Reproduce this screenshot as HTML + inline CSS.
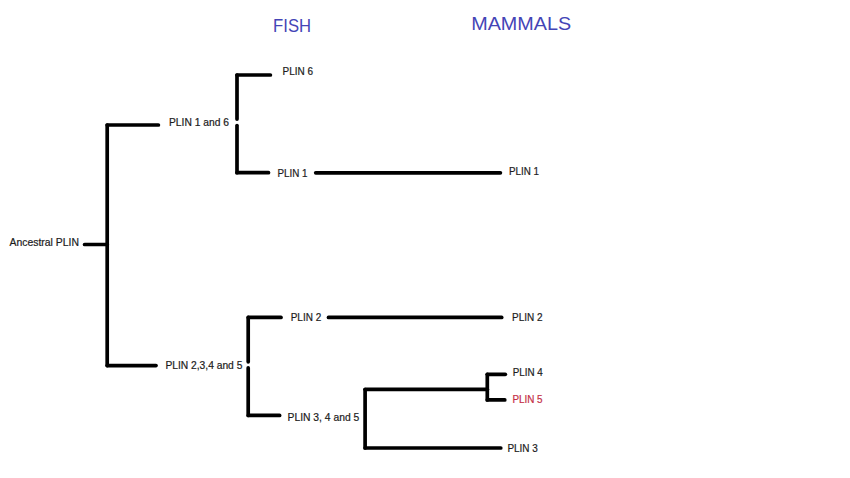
<!DOCTYPE html>
<html><head><meta charset="utf-8">
<style>
html,body{margin:0;padding:0;background:#fff;width:850px;height:478px;overflow:hidden}
svg{display:block}
text{font-family:"Liberation Sans",sans-serif;font-size:10.3px;fill:#1c1c1c;stroke:#1c1c1c;stroke-width:0.2px}
.t{font-size:18.6px;fill:#4444b6;stroke:none}
.r{fill:#c42f46;stroke:#c42f46}
line{stroke:#000;stroke-width:3.7;stroke-linecap:round}
</style></head><body>
<svg width="850" height="478" viewBox="0 0 850 478">
<rect width="850" height="478" fill="#fff"/>
<!-- lines -->
<line x1="84.6" y1="244.5" x2="107.2" y2="244.5"/>
<line x1="107.2" y1="125" x2="107.2" y2="365.6"/>
<line x1="107.2" y1="125" x2="158.4" y2="125"/>
<line x1="107.2" y1="365.6" x2="156" y2="365.6"/>
<line x1="237" y1="75" x2="237" y2="119.1"/>
<line x1="237" y1="125.5" x2="237" y2="172.7"/>
<line x1="237" y1="75" x2="270.4" y2="75"/>
<line x1="237" y1="172.7" x2="268.5" y2="172.7"/>
<line x1="315.7" y1="172.8" x2="500.4" y2="172.8"/>
<line x1="248.2" y1="317.4" x2="248.2" y2="361.8"/>
<line x1="248.2" y1="367.9" x2="248.2" y2="415.4"/>
<line x1="248.3" y1="317.4" x2="281" y2="317.4"/>
<line x1="328.5" y1="317.4" x2="501.7" y2="317.4"/>
<line x1="248.3" y1="415.4" x2="279.6" y2="415.4"/>
<line x1="365.1" y1="389.5" x2="365.1" y2="448"/>
<line x1="365.1" y1="389.3" x2="487.3" y2="389.3"/>
<line x1="365.1" y1="448" x2="500.8" y2="448"/>
<line x1="487.3" y1="374.3" x2="487.3" y2="399.9"/>
<line x1="487.3" y1="374.3" x2="505.3" y2="374.3"/>
<line x1="487.3" y1="399.9" x2="504.8" y2="399.9"/>
<!-- text -->
<text class="t" x="273.1" y="32.2" textLength="38" lengthAdjust="spacingAndGlyphs">FISH</text>
<text class="t" x="471.2" y="30.1" textLength="100" lengthAdjust="spacingAndGlyphs">MAMMALS</text>
<text x="9.5" y="245.9" textLength="69.5" lengthAdjust="spacingAndGlyphs">Ancestral PLIN</text>
<text x="169" y="125.9" textLength="60" lengthAdjust="spacingAndGlyphs">PLIN 1 and 6</text>
<text x="282.5" y="74.7" textLength="30.5" lengthAdjust="spacingAndGlyphs">PLIN 6</text>
<text x="277.5" y="176.8" textLength="30" lengthAdjust="spacingAndGlyphs">PLIN 1</text>
<text x="509" y="174.7" textLength="30" lengthAdjust="spacingAndGlyphs">PLIN 1</text>
<text x="165.4" y="368.6" textLength="77" lengthAdjust="spacingAndGlyphs">PLIN 2,3,4 and 5</text>
<text x="290.7" y="321.1" textLength="30.5" lengthAdjust="spacingAndGlyphs">PLIN 2</text>
<text x="512" y="320.7" textLength="30.5" lengthAdjust="spacingAndGlyphs">PLIN 2</text>
<text x="287.5" y="420.5" textLength="71.8" lengthAdjust="spacingAndGlyphs">PLIN 3, 4 and 5</text>
<text x="512.8" y="376" textLength="30" lengthAdjust="spacingAndGlyphs">PLIN 4</text>
<text class="r" x="512.4" y="402.6" textLength="30.2" lengthAdjust="spacingAndGlyphs">PLIN 5</text>
<text x="507.4" y="451.7" textLength="30.4" lengthAdjust="spacingAndGlyphs">PLIN 3</text>
</svg>
</body></html>
